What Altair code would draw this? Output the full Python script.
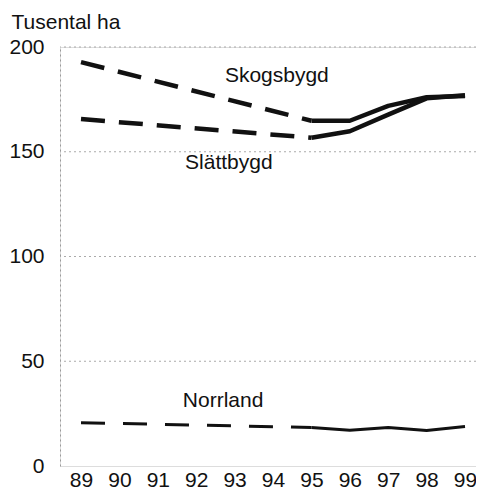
import altair as alt
import pandas as pd

years_solid = [95, 96, 97, 98, 99]
skog_solid = [164.8, 164.8, 171.9, 176.0, 176.6]
slatt_solid = [156.7, 159.8, 167.7, 175.5, 177.0]
norr_solid = [18.4, 17.1, 18.4, 16.9, 18.8]

years_dash = [89, 95]
skog_dash = [192.8, 164.8]
slatt_dash = [165.6, 156.7]
norr_dash = [20.7, 18.4]

label_names = ["Skogsbygd", "Slättbygd", "Norrland"]
label_x = [94.1, 92.85, 92.7]
label_y = [183.5, 141.6, 28.2]

grid_values = [50, 100, 150, 200]
y_ticks = [0, 50, 100, 150, 200]
x_ticks = list(range(89, 100))

rows = []
for name, vals in [("Skogsbygd", skog_solid), ("Slättbygd", slatt_solid), ("Norrland", norr_solid)]:
    for yr, v in zip(years_solid, vals):
        rows.append({"serie": name, "ar": yr, "v": v, "typ": "solid"})
for name, vals in [("Skogsbygd", skog_dash), ("Slättbygd", slatt_dash), ("Norrland", norr_dash)]:
    for yr, v in zip(years_dash, vals):
        rows.append({"serie": name, "ar": yr, "v": v, "typ": "dash"})
df = pd.DataFrame(rows)

labels = pd.DataFrame({"namn": label_names, "ar": label_x, "v": label_y})
grid = pd.DataFrame({"g": grid_values})

FONT = "Liberation Sans"

xscale = alt.Scale(domain=[88.453, 99.286], nice=False, zero=False)
yscale = alt.Scale(domain=[0, 200], nice=False)

xenc = alt.X("ar:Q", scale=xscale, axis=alt.Axis(
    values=x_ticks, format="d", domain=False, ticks=False, grid=False,
    labelFont=FONT, labelFontSize=21, labelColor="#111", labelPadding=3,
    labelFlush=False, title=None))
yenc = alt.Y("v:Q", scale=yscale, axis=alt.Axis(
    values=y_ticks, domain=True, domainColor="#999", domainDash=[2, 3], domainWidth=1,
    ticks=False, grid=False, labelFont=FONT, labelFontSize=21, labelColor="#111",
    labelPadding=16, title="Tusental ha", titleFont=FONT, titleFontSize=21,
    titleFontWeight="normal", titleColor="#111", titleAngle=0, titleAlign="left",
    titleBaseline="alphabetic", titleX=-49, titleY=-19))

gridlayer = alt.Chart(grid).mark_rule(color="#aaa", strokeWidth=1, strokeDash=[2, 3]).encode(
    y=alt.Y("g:Q", scale=yscale)
)

base = alt.Chart(df)
thick_solid = base.transform_filter(
    "datum.typ == 'solid' && datum.serie != 'Norrland'"
).mark_line(color="#111", strokeWidth=4.5, strokeJoin="round").encode(
    x=xenc, y=yenc, detail="serie:N")
thick_dash = base.transform_filter(
    "datum.typ == 'dash' && datum.serie != 'Norrland'"
).mark_line(color="#111", strokeWidth=4.5, strokeDash=[24, 14]).encode(
    x=xenc, y=yenc, detail="serie:N")
thin_solid = base.transform_filter(
    "datum.typ == 'solid' && datum.serie == 'Norrland'"
).mark_line(color="#111", strokeWidth=3, strokeJoin="round").encode(
    x=xenc, y=yenc)
thin_dash = base.transform_filter(
    "datum.typ == 'dash' && datum.serie == 'Norrland'"
).mark_line(color="#111", strokeWidth=3, strokeDash=[24, 18]).encode(
    x=xenc, y=yenc)

text = alt.Chart(labels).mark_text(
    font=FONT, fontSize=21, color="#111", align="center", baseline="alphabetic"
).encode(x=alt.X("ar:Q", scale=xscale), y=alt.Y("v:Q", scale=yscale), text="namn:N")

chart = alt.layer(gridlayer, thick_dash, thick_solid, thin_dash, thin_solid, text).properties(
    width=416, height=419,
    autosize=alt.AutoSizeParams(type="none"),
    padding={"left": 52, "top": 39, "right": 0, "bottom": 26},
).configure_view(stroke=None).configure(background="white")

chart.save("out.html", embed_options={"renderer": "svg", "actions": False})
